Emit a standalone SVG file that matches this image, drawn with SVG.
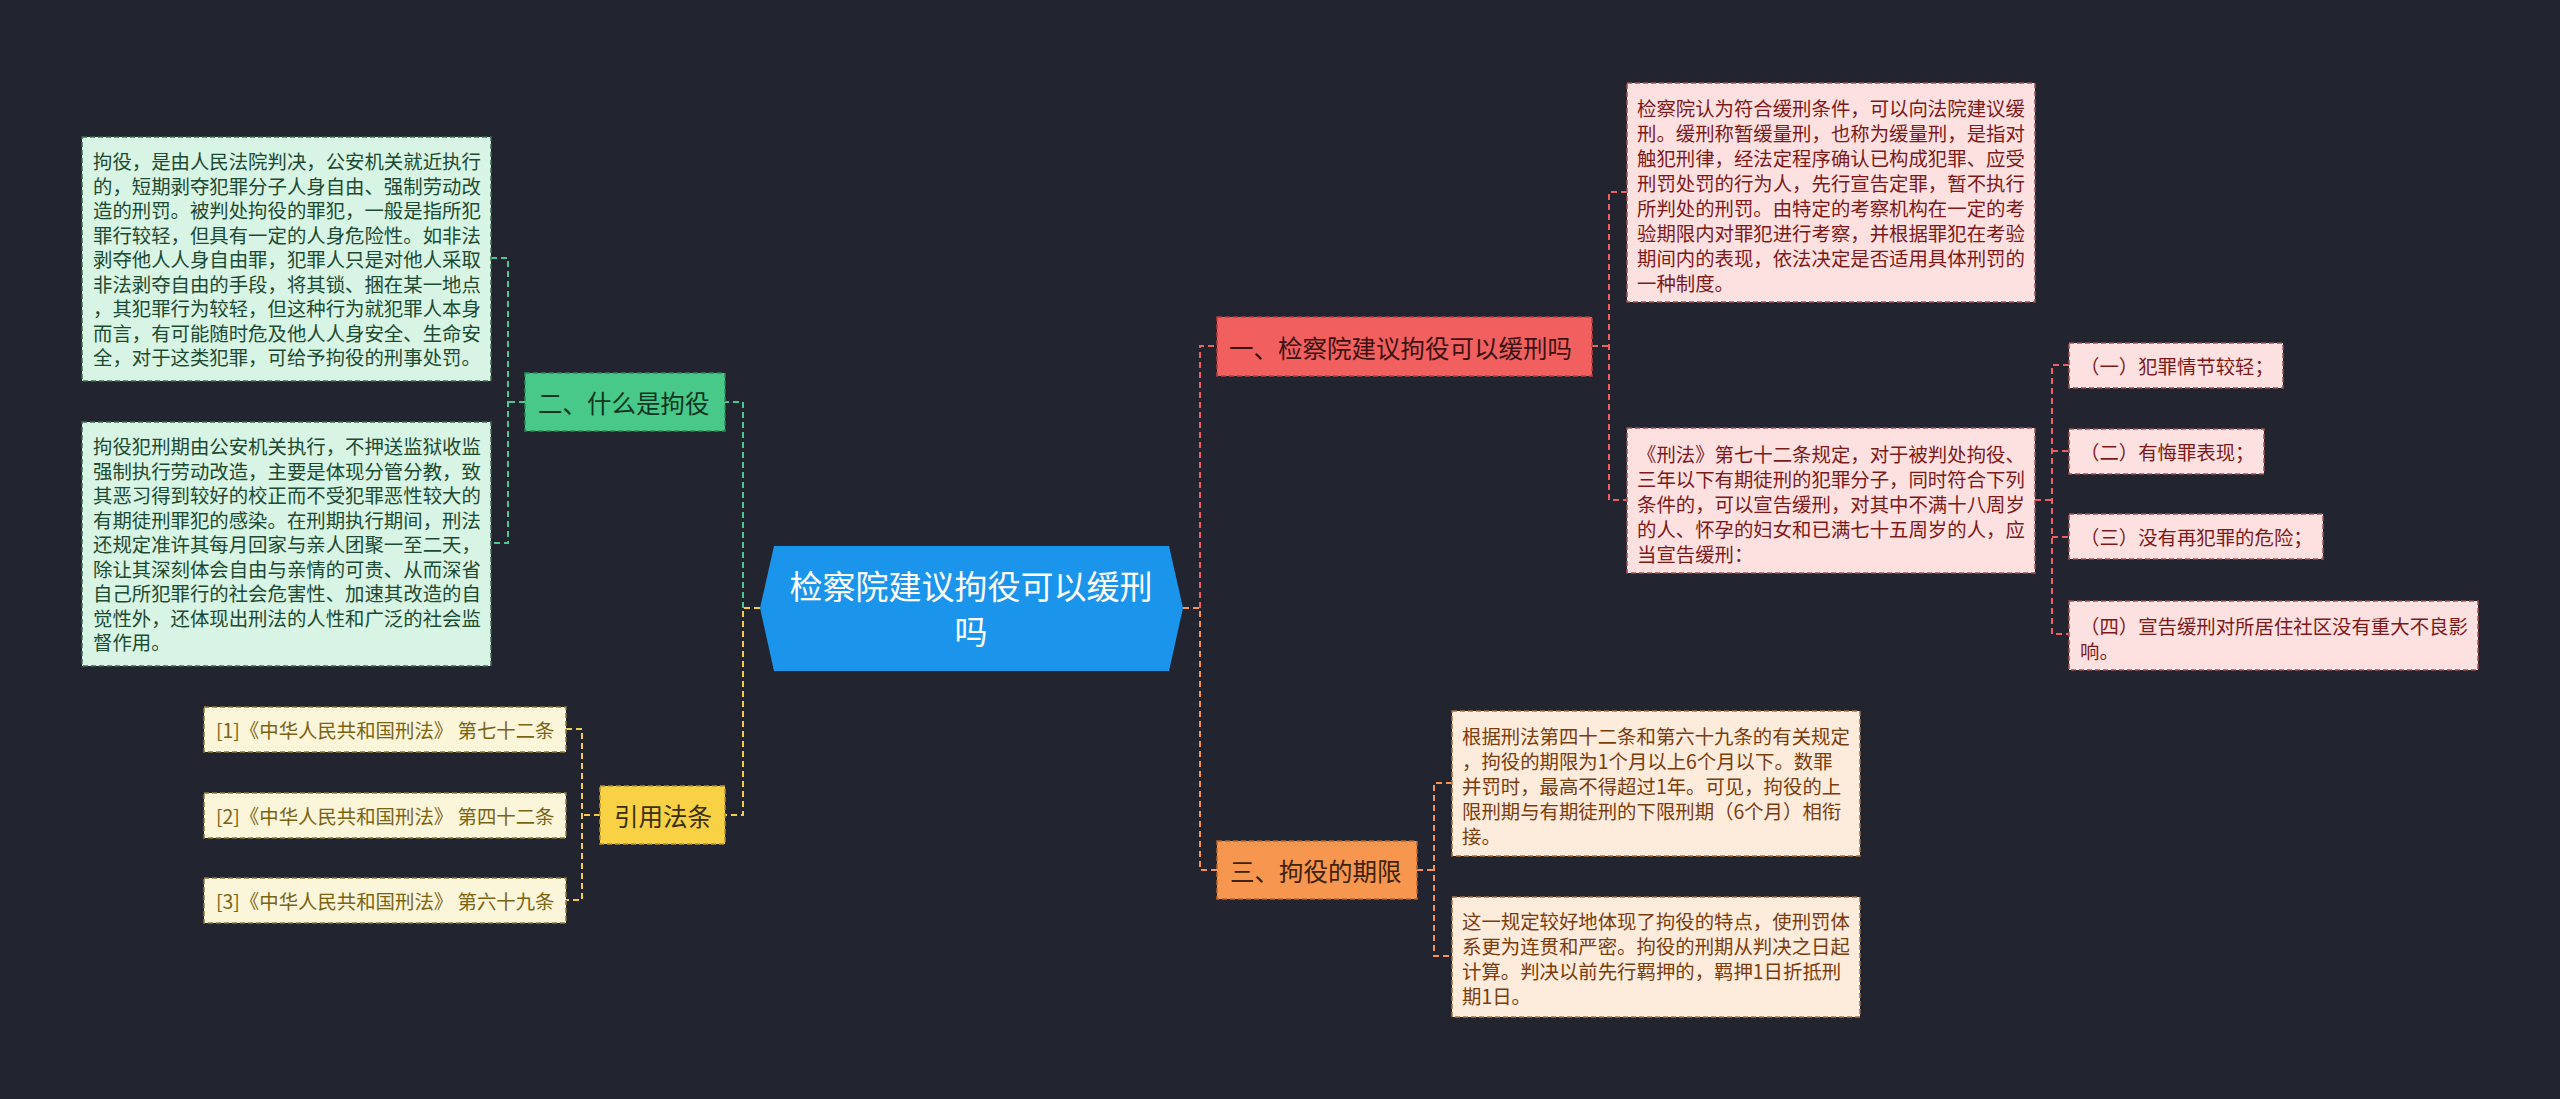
<svg xmlns="http://www.w3.org/2000/svg" width="2560" height="1099" viewBox="0 0 2560 1099">
<style>
text{font-family:"Noto Sans CJK SC","Noto Sans",sans-serif;}
.c{fill:none;stroke-width:2;stroke-dasharray:6 4;}
.cg{stroke:#4cc98a}.cr{stroke:#ef5f5f}.co{stroke:#f5934f}.cy{stroke:#f3cd48}
.n{stroke-width:1.5;stroke-dasharray:5 3;}
.t1{font-size:24.5px;dominant-baseline:central;}
.t2{font-size:19.4px;dominant-baseline:central;}
.gs{fill:#d7f4e4;stroke:#3c6e52}.gt{fill:#1d4a32}
.rs{fill:#fde1e1;stroke:#a05050}.rt{fill:#7c1a1a}
.os{fill:#fdebdc;stroke:#a8703f}.ot{fill:#7a3d0e}
.ys{fill:#fbf5d9;stroke:#8a7a3a}.yt{fill:#7a6414}
</style>
<rect width="2560" height="1099" fill="#22252f"/>
<g id="connectors">
<path class="c cg" d="M743,608 V402 H725"/>
<path class="c cy" d="M760,608 H743 V815 H725"/>
<path class="c cr" d="M1200,608 V346 H1217"/>
<path class="c co" d="M1183,608 H1200 V870 H1217"/>
<path class="c cg" d="M525,402 H508 M491,258 H508 V543 H491"/>
<path class="c cy" d="M600,815 H582 M566,729 H582 V900 H566"/>
<path class="c cr" d="M1592,346 H1609 M1627,192 H1609 V500 H1627"/>
<path class="c cr" d="M2035,500 H2052 M2069,365 H2052 V634 H2069 M2052,451 H2069 M2052,537 H2069"/>
<path class="c co" d="M1417,870 H1434 M1452,783 H1434 V956 H1452"/>
</g>
<g id="root">
<path d="M774,546 L1169,546 L1183,608 L1169,671 L774,671 L760,608 Z" fill="#1b95ec"/>
<text x="971" y="585" text-anchor="middle" font-size="33" fill="#ffffff" dominant-baseline="central">检察院建议拘役可以缓刑</text>
<text x="971" y="630" text-anchor="middle" font-size="33" fill="#ffffff" dominant-baseline="central">吗</text>
</g>
<g id="n1">
<rect class="n" x="1217" y="317" width="375" height="59" fill="#f25f5f" stroke="#b83c3c"/>
<text class="t1" x="1229" y="347" fill="#3a1212">一、检察院建议拘役可以缓刑吗</text>
</g>
<g id="n2">
<rect class="n" x="525" y="373" width="200" height="58" fill="#48c98a" stroke="#2a8a5a"/>
<text class="t1" x="538" y="402" fill="#0f3521">二、什么是拘役</text>
</g>
<g id="n3">
<rect class="n" x="1217" y="841" width="200" height="58" fill="#f7964f" stroke="#b8672d"/>
<text class="t1" x="1230" y="870" fill="#3d220c">三、拘役的期限</text>
</g>
<g id="n4">
<rect class="n" x="600" y="786" width="125" height="58" fill="#f8d145" stroke="#b0922a"/>
<text class="t1" x="614" y="815" fill="#3a2f08">引用法条</text>
</g>
<g id="g1">
<rect class="n gs" x="82" y="137" width="409" height="244"/>
<text class="t2 gt" x="93" y="160"><tspan x="93">拘役，是由人民法院判决，公安机关就近执行</tspan><tspan x="93" dy="24.5">的，短期剥夺犯罪分子人身自由、强制劳动改</tspan><tspan x="93" dy="24.5">造的刑罚。被判处拘役的罪犯，一般是指所犯</tspan><tspan x="93" dy="24.5">罪行较轻，但具有一定的人身危险性。如非法</tspan><tspan x="93" dy="24.5">剥夺他人人身自由罪，犯罪人只是对他人采取</tspan><tspan x="93" dy="24.5">非法剥夺自由的手段，将其锁、捆在某一地点</tspan><tspan x="93" dy="24.5">，其犯罪行为较轻，但这种行为就犯罪人本身</tspan><tspan x="93" dy="24.5">而言，有可能随时危及他人人身安全、生命安</tspan><tspan x="93" dy="24.5">全，对于这类犯罪，可给予拘役的刑事处罚。</tspan></text>
</g>
<g id="g2">
<rect class="n gs" x="82" y="422" width="409" height="244"/>
<text class="t2 gt" x="93" y="445"><tspan x="93">拘役犯刑期由公安机关执行，不押送监狱收监</tspan><tspan x="93" dy="24.5">强制执行劳动改造，主要是体现分管分教，致</tspan><tspan x="93" dy="24.5">其恶习得到较好的校正而不受犯罪恶性较大的</tspan><tspan x="93" dy="24.5">有期徒刑罪犯的感染。在刑期执行期间，刑法</tspan><tspan x="93" dy="24.5">还规定准许其每月回家与亲人团聚一至二天，</tspan><tspan x="93" dy="24.5">除让其深刻体会自由与亲情的可贵、从而深省</tspan><tspan x="93" dy="24.5">自己所犯罪行的社会危害性、加速其改造的自</tspan><tspan x="93" dy="24.5">觉性外，还体现出刑法的人性和广泛的社会监</tspan><tspan x="93" dy="24.5">督作用。</tspan></text>
</g>
<g id="y1">
<rect class="n ys" x="204" y="707" width="362" height="45"/>
<text class="t2 yt" x="216" y="729.5">[1]《中华人民共和国刑法》 第七十二条</text>
</g>
<g id="y2">
<rect class="n ys" x="204" y="793" width="362" height="45"/>
<text class="t2 yt" x="216" y="815.5">[2]《中华人民共和国刑法》 第四十二条</text>
</g>
<g id="y3">
<rect class="n ys" x="204" y="878" width="362" height="45"/>
<text class="t2 yt" x="216" y="900.5">[3]《中华人民共和国刑法》 第六十九条</text>
</g>
<g id="r1">
<rect class="n rs" x="1627" y="83" width="408" height="219"/>
<text class="t2 rt" x="1637" y="107"><tspan x="1637">检察院认为符合缓刑条件，可以向法院建议缓</tspan><tspan x="1637" dy="25">刑。缓刑称暂缓量刑，也称为缓量刑，是指对</tspan><tspan x="1637" dy="25">触犯刑律，经法定程序确认已构成犯罪、应受</tspan><tspan x="1637" dy="25">刑罚处罚的行为人，先行宣告定罪，暂不执行</tspan><tspan x="1637" dy="25">所判处的刑罚。由特定的考察机构在一定的考</tspan><tspan x="1637" dy="25">验期限内对罪犯进行考察，并根据罪犯在考验</tspan><tspan x="1637" dy="25">期间内的表现，依法决定是否适用具体刑罚的</tspan><tspan x="1637" dy="25">一种制度。</tspan></text>
</g>
<g id="r2">
<rect class="n rs" x="1627" y="428" width="408" height="145"/>
<text class="t2 rt" x="1637" y="453"><tspan x="1637">《刑法》第七十二条规定，对于被判处拘役、</tspan><tspan x="1637" dy="25">三年以下有期徒刑的犯罪分子，同时符合下列</tspan><tspan x="1637" dy="25">条件的，可以宣告缓刑，对其中不满十八周岁</tspan><tspan x="1637" dy="25">的人、怀孕的妇女和已满七十五周岁的人，应</tspan><tspan x="1637" dy="25">当宣告缓刑：</tspan></text>
</g>
<g id="r3">
<rect class="n rs" x="2069" y="343" width="214" height="45"/>
<text class="t2 rt" x="2080" y="365.5">（一）犯罪情节较轻；</text>
</g>
<g id="r4">
<rect class="n rs" x="2069" y="429" width="195" height="45"/>
<text class="t2 rt" x="2080" y="451.5">（二）有悔罪表现；</text>
</g>
<g id="r5">
<rect class="n rs" x="2069" y="514" width="254" height="45"/>
<text class="t2 rt" x="2080" y="536.5">（三）没有再犯罪的危险；</text>
</g>
<g id="r6">
<rect class="n rs" x="2069" y="601" width="409" height="69"/>
<text class="t2 rt" x="2080" y="625"><tspan x="2080">（四）宣告缓刑对所居住社区没有重大不良影</tspan><tspan x="2080" dy="25">响。</tspan></text>
</g>
<g id="o1">
<rect class="n os" x="1452" y="711" width="408" height="145"/>
<text class="t2 ot" x="1462" y="735"><tspan x="1462">根据刑法第四十二条和第六十九条的有关规定</tspan><tspan x="1462" dy="25">，拘役的期限为1个月以上6个月以下。数罪</tspan><tspan x="1462" dy="25">并罚时，最高不得超过1年。可见，拘役的上</tspan><tspan x="1462" dy="25">限刑期与有期徒刑的下限刑期（6个月）相衔</tspan><tspan x="1462" dy="25">接。</tspan></text>
</g>
<g id="o2">
<rect class="n os" x="1452" y="897" width="408" height="120"/>
<text class="t2 ot" x="1462" y="920"><tspan x="1462">这一规定较好地体现了拘役的特点，使刑罚体</tspan><tspan x="1462" dy="25">系更为连贯和严密。拘役的刑期从判决之日起</tspan><tspan x="1462" dy="25">计算。判决以前先行羁押的，羁押1日折抵刑</tspan><tspan x="1462" dy="25">期1日。</tspan></text>
</g>
</svg>
